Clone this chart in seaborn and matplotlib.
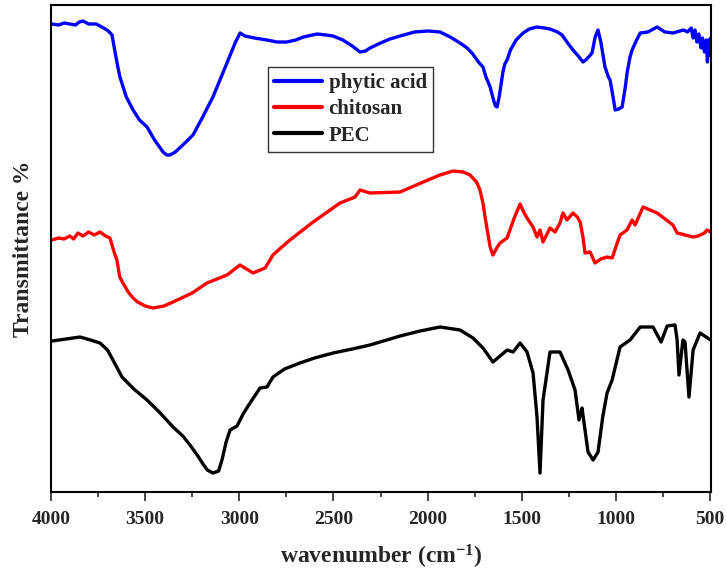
import matplotlib
matplotlib.use("Agg")
import matplotlib.pyplot as plt
import seaborn as sns
import numpy as np
import pandas as pd
from matplotlib.ticker import MultipleLocator

# ---- data (y in arbitrary stacked units) ----
phytic_w = [3996, 3960, 3930, 3900, 3870, 3850, 3830, 3800, 3760, 3730, 3703, 3690, 3676, 3660, 3645,
            3634, 3600, 3564, 3530, 3490, 3450, 3405, 3385, 3368, 3340, 3300, 3246, 3200, 3140, 3070,
            3020, 2996, 2970, 2920, 2853, 2800, 2747, 2700, 2660, 2587, 2540, 2502, 2450, 2400, 2359,
            2330, 2306, 2250, 2200, 2146, 2070, 1998, 1934, 1880, 1828, 1790, 1760, 1730, 1706, 1690,
            1668, 1650, 1640, 1631, 1620, 1600, 1590, 1578, 1560, 1530, 1493, 1460, 1419, 1380, 1350,
            1310, 1286, 1260, 1228, 1200, 1175, 1160, 1140, 1127, 1110, 1095, 1080, 1058, 1040, 1031,
            1015, 1004, 985, 967, 950, 940, 925, 914, 890, 871, 830, 781, 740, 697, 660,
            640, 620, 600, 590, 580, 570, 560, 548, 540, 530, 520, 514, 508, 502, 497]
phytic_t = [468, 467, 469, 468, 467, 470, 471, 468, 468, 465, 462, 460, 457, 440, 425,
            415, 395, 382, 372, 365, 352, 340, 337, 337, 340, 347, 357, 373, 395, 427,
            450, 459, 456, 454, 452, 450, 450, 452, 455, 458, 457, 456, 452, 446, 440,
            441, 444, 449, 453, 456, 460, 461, 460, 455, 449, 444, 438, 430, 425, 415,
            405, 392, 386, 385, 395, 420, 428, 432, 442, 452, 459, 463, 465, 464, 463,
            460, 457, 450, 442, 436, 430, 432, 436, 439, 455, 462, 450, 425, 415, 412,
            395, 382, 383, 385, 405, 420, 435, 442, 452, 459, 460, 465, 460, 459, 461,
            462, 460, 464, 454, 462, 450, 458, 444, 454, 440, 452, 430, 452, 437, 454]

chitosan_w = [3995, 3960, 3930, 3900, 3880, 3857, 3830, 3800, 3770, 3740, 3710, 3687, 3665, 3650,
              3635, 3618, 3590, 3564, 3540, 3500, 3458, 3400, 3352, 3250, 3172, 3065, 2996, 2927,
              2863, 2821, 2780, 2731, 2608, 2465, 2385, 2359, 2306, 2146, 2060, 1998, 1934, 1865,
              1810, 1775, 1740, 1722, 1705, 1695, 1668, 1653, 1630, 1615, 1578, 1540, 1509, 1490,
              1472, 1440, 1419, 1403, 1387, 1350, 1323, 1297, 1281, 1260, 1228, 1205, 1190, 1175,
              1164, 1137, 1111, 1080, 1047, 1020, 995, 978, 941, 914, 898, 856, 781, 697, 675,
              590, 564, 530, 516, 497]
chitosan_t = [252, 254, 253, 256, 253, 259, 256, 260, 257, 260, 256, 254, 240, 232,
              215, 209, 200, 194, 190, 186, 184, 186, 190, 199, 209, 217, 227, 219,
              224, 237, 244, 252, 270, 289, 295, 302, 299, 300, 307, 312, 317, 321,
              320, 317, 310, 302, 288, 275, 245, 237, 245, 249, 254, 274, 288, 280,
              274, 265, 255, 262, 250, 264, 260, 269, 279, 272, 279, 275, 270, 255,
              239, 240, 229, 233, 235, 234, 248, 257, 262, 272, 267, 285, 279, 267, 259,
              255, 256, 259, 262, 260]

pec_w = [3995, 3920, 3846, 3790, 3740, 3700, 3671, 3623, 3560, 3490, 3420, 3352, 3300, 3262, 3220,
         3193, 3170, 3140, 3110, 3092, 3070, 3049, 3012, 2980, 2943, 2890, 2853, 2821, 2760, 2678,
         2600, 2502, 2400, 2306, 2146, 2040, 1934, 1828, 1759, 1706, 1653, 1615, 1578, 1546, 1509,
         1472, 1440, 1419, 1403, 1387, 1350, 1297, 1254, 1217, 1196, 1180, 1175, 1148, 1121, 1095,
         1070, 1047, 1020, 978, 925, 871, 803, 760, 728, 686, 675, 665, 644, 633, 612, 590, 553, 497]
pec_t = [151, 153, 155, 152, 149, 142, 132, 115, 103, 92, 79, 65, 56, 47, 36,
         28, 22, 19, 21, 32, 50, 62, 66, 78, 89, 104, 105, 115, 123, 129,
         134, 139, 143, 147, 156, 161, 165, 162, 154, 144, 130, 136, 142, 140, 149,
         140, 119, 75, 19, 92, 140, 140, 122, 102, 72, 84, 77, 40, 32, 40,
         75, 99, 112, 145, 152, 165, 165, 150, 166, 167, 152, 117, 152, 150, 95, 142, 159, 152]

labels = ["phytic acid", "chitosan", "PEC"]
colors = ["#0000ff", "#ff0000", "#000000"]

frames = []
for name, w, t in zip(labels, [phytic_w, chitosan_w, pec_w], [phytic_t, chitosan_t, pec_t]):
    frames.append(pd.DataFrame({"wavenumber": w, "T": t, "sample": name}))
df = pd.concat(frames, ignore_index=True)

sns.set_style("ticks")
plt.rcParams["font.family"] = ["Liberation Serif", "DejaVu Serif"]
plt.rcParams["font.weight"] = "bold"
plt.rcParams["mathtext.fontset"] = "custom"
plt.rcParams["mathtext.rm"] = "Liberation Serif:bold"
plt.rcParams["mathtext.bf"] = "Liberation Serif:bold"
plt.rcParams["mathtext.default"] = "bf"

fig = plt.figure(figsize=(7.27, 5.75), dpi=100)
ax = fig.add_axes([51 / 727, 83 / 575, 660 / 727, 487 / 575])

sns.lineplot(data=df, x="wavenumber", y="T", hue="sample", hue_order=labels,
             palette=colors, estimator=None, sort=False, linewidth=2.4, ax=ax)

ax.set_xlim(4000, 495)
ax.set_ylim(0, 487)
ax.xaxis.set_major_locator(MultipleLocator(500))
ax.xaxis.set_minor_locator(MultipleLocator(250))
ax.set_yticks([])
ax.tick_params(axis="x", which="major", direction="out", length=6.5, width=1.2,
               labelsize=14, pad=7, top=False)
ax.tick_params(axis="x", which="minor", direction="out", length=3.3, width=1.2, top=False)
for lab in ax.get_xticklabels():
    lab.set_fontweight("bold")
for s in ax.spines.values():
    s.set_visible(True)
    s.set_linewidth(1.5)
    s.set_color("black")

ax.set_xlabel("wavenumber (cm$^{\\mathbf{-1}}$)", fontsize=17, fontweight="bold", labelpad=11)
ax.set_ylabel("Transmittance %", fontsize=17, fontweight="bold", labelpad=12)

leg = ax.legend(loc="upper left", bbox_to_anchor=(0.329, 0.873), borderaxespad=0,
                frameon=True, fancybox=False, edgecolor="black",
                handlelength=2.3, handletextpad=0.3, labelspacing=0.3, borderpad=0.3,
                prop={"weight": "bold", "size": 15})
leg.get_frame().set_linewidth(1.0)
for line in leg.get_lines():
    line.set_linewidth(3)

fig.savefig("out.png", dpi=100)
